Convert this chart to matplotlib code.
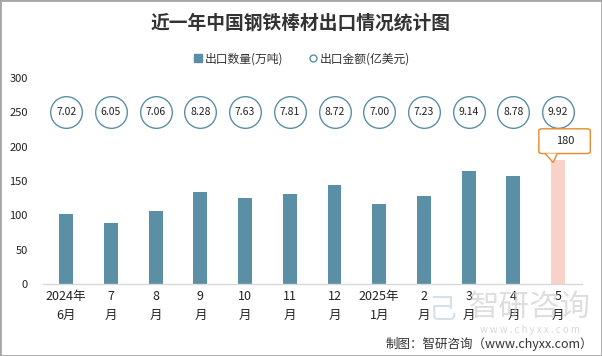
import matplotlib
matplotlib.use('Agg')
import matplotlib.pyplot as plt
from matplotlib.patches import FancyBboxPatch, Polygon, Rectangle
from matplotlib.lines import Line2D
import numpy as np

plt.rcParams['font.family'] = ['Noto Sans CJK SC', 'DejaVu Sans']
plt.rcParams['axes.unicode_minus'] = False

# 数据
months = ['2024年\n6月', '7\n月', '8\n月', '9\n月', '10\n月', '11\n月', '12\n月',
          '2025年\n1月', '2\n月', '3\n月', '4\n月', '5\n月']
export_qty = [102, 89, 106, 134, 125, 131, 144, 116, 128, 164, 157, 180]   # 万吨
export_amt = [7.02, 6.05, 7.06, 8.28, 7.63, 7.81, 8.72, 7.00, 7.23, 9.14, 8.78, 9.92]  # 亿美元
yticks = [0, 50, 100, 150, 200, 250, 300]

bar_color = '#5B8FA6'
last_color = '#F8D2C9'
orange = '#E8892B'

fig = plt.figure(figsize=(6.02, 3.56), dpi=100)
ax = fig.add_axes([0.0714, 0.2022, 0.895, 0.5787])

x = np.arange(len(months))
colors = [bar_color] * (len(x) - 1) + [last_color]
ax.bar(x, export_qty, width=0.31, color=colors, zorder=2)

# 金额圆圈，放在250刻度位置
ax.scatter(x, [250] * len(x), s=520, facecolor='white', edgecolor=bar_color,
           linewidth=1.0, zorder=3, clip_on=False)
for xi, v in zip(x, export_amt):
    ax.text(xi, 250, '%.2f' % v, ha='center', va='center', fontsize=7.5,
            color='#222222', zorder=4)

# 最后一根柱子的标注框
last = len(x) - 1
top = export_qty[last]
box = FancyBboxPatch((last - 0.43, top + 10), 1.15, 36,
                     boxstyle='round,pad=0,rounding_size=0.08',
                     facecolor='white', edgecolor=orange, linewidth=1.0,
                     zorder=5, clip_on=False, mutation_aspect=30)
ax.add_patch(box)
tri = [(last - 0.29, top + 10), (last - 0.11, top - 3), (last - 0.02, top + 10)]
ax.add_patch(Polygon(tri, closed=True, facecolor='white', edgecolor='none',
                     zorder=6, clip_on=False))
ax.add_patch(Polygon(tri, closed=False, facecolor='none', edgecolor=orange,
                     linewidth=1.0, zorder=6, clip_on=False))
ax.text(last + 0.15, top + 28, str(top), ha='center', va='center', fontsize=8,
        color='#222222', zorder=7)

ax.set_xlim(-0.52, 11.53)
ax.set_ylim(0, 300)
ax.set_yticks(yticks)
ax.set_xticks(x)
ax.set_xticklabels(months, fontsize=9, color='#222222', linespacing=1.6)
ax.tick_params(axis='y', length=0, pad=11, labelsize=8, labelcolor='#222222')
ax.tick_params(axis='x', length=0, pad=4)
for s in ['top', 'right', 'left']:
    ax.spines[s].set_visible(False)
ax.spines['bottom'].set_color('#d9d9d9')
ax.spines['bottom'].set_linewidth(1.0)

fig.text(0.5, 0.935, '近一年中国钢铁棒材出口情况统计图', ha='center', va='center',
         fontsize=13.5, fontweight='bold', color='#333333')

handles = [Line2D([], [], marker='s', linestyle='none', markersize=6,
                  markerfacecolor=bar_color, markeredgecolor=bar_color),
           Line2D([], [], marker='o', linestyle='none', markersize=5,
                  markerfacecolor='white', markeredgecolor=bar_color)]
fig.legend(handles, ['出口数量(万吨)', '出口金额(亿美元)'], loc='center',
           bbox_to_anchor=(0.5, 0.835), ncol=2, frameon=False, fontsize=8.5,
           handletextpad=0.1, columnspacing=2.0, handlelength=1.0,
           labelcolor='#333333')

# 水印
fig.text(0.88, 0.137, '智研咨询', ha='center', va='center', fontsize=22,
         color='#c8c8c8', alpha=0.6, zorder=0)
fig.text(0.88, 0.072, 'w w w . c h y x x . c o m', ha='center', va='center',
         fontsize=7, color='#c8c8c8', alpha=0.7, zorder=0)
fig.text(0.735, 0.13, '己', ha='center', va='center', fontsize=20,
         color='#b8cde0', alpha=0.6, zorder=0)

fig.text(0.985, 0.035, '制图：智研咨询（www.chyxx.com）', ha='right', va='center',
         fontsize=9, color='#333333')

fig.add_artist(Rectangle((0, 0), 1, 1, transform=fig.transFigure, fill=False,
                         edgecolor='#a6a6a6', linewidth=2))

fig.savefig('out.png', dpi=100)
